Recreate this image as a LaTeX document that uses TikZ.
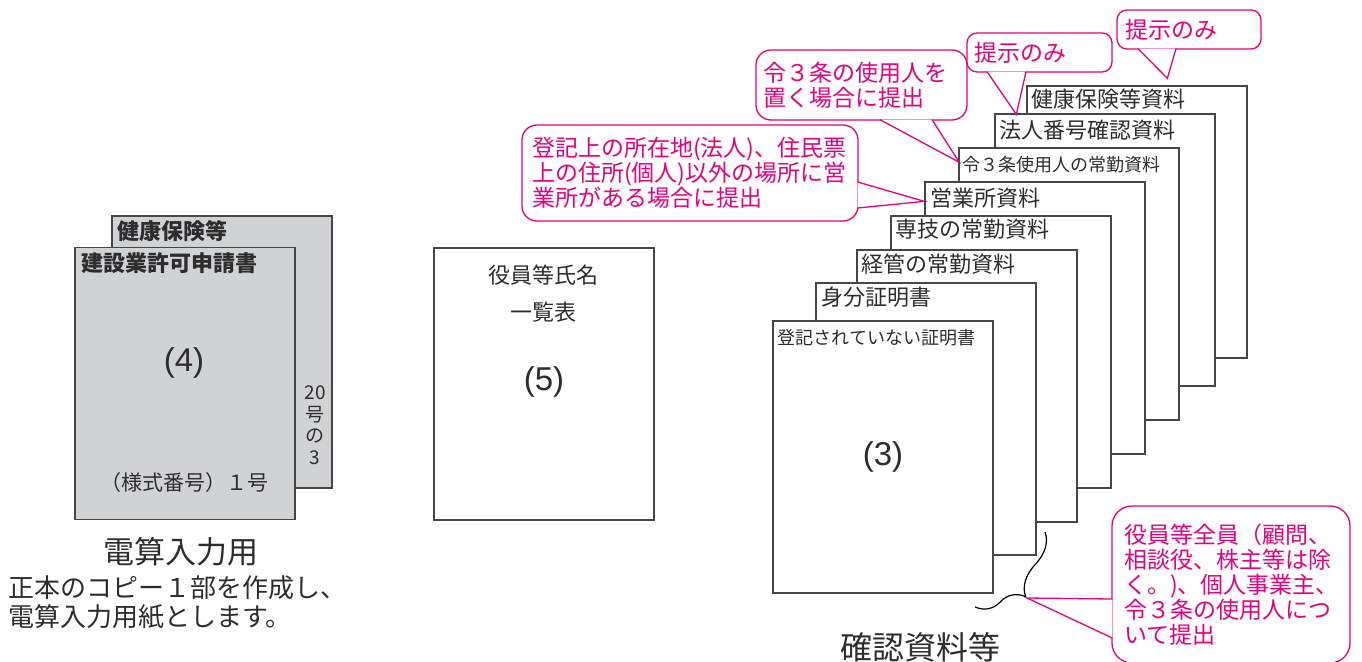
\documentclass[tikz,border=0pt]{standalone}
\usepackage{fontspec}
\setmainfont{Noto Sans CJK JP}
\newfontfamily\numfont{Liberation Sans}
\usetikzlibrary{decorations.pathreplacing}
\definecolor{mag}{RGB}{228,0,127}
\definecolor{cardgray}{RGB}{209,210,212}
\definecolor{txt}{RGB}{45,45,45}
\definecolor{cardline}{RGB}{70,70,70}
\tikzset{
  card/.style={draw=cardline, line width=1.3pt, fill=white, minimum width=220pt, minimum height=272pt, inner sep=0pt},
  lbl/.style={text=txt, inner sep=0pt, anchor=west, font=\fontsize{22}{26}\selectfont},
  slbl/.style={lbl, font=\fontsize{18}{22}\selectfont},
  bignum/.style={text=txt, inner sep=0pt, font=\numfont\fontsize{33}{36}\selectfont},
  callout/.style={draw=mag, line width=1.3pt, fill=white, text=mag, align=left, inner ysep=0pt, font=\fontsize{23}{25}\selectfont},
  tail/.style={draw=mag, line width=1.3pt, fill=white},
}
\begin{document}
\begin{tikzpicture}[x=1pt,y=-1pt]
\useasboundingbox (0,0) rectangle (1362,661);

% 電算入力用
\node[card, fill=cardgray] (kenko) at (222,352) {};
\node[lbl, font=\bfseries\fontsize{22}{26}\selectfont] (kenko-t) at ([shift={(6,16)}]kenko.north west) {健康保険等};
\node[text=txt, align=center, inner sep=0pt, font=\fontsize{19}{21.5}\selectfont] (kenko-no) at (315,425) {20\\号\\の\\3};
\node[card, fill=cardgray] (shinsei) at (185,383.5) {};
\node[lbl, font=\bfseries\fontsize{22}{26}\selectfont] (shinsei-t) at ([shift={(7,16)}]shinsei.north west) {建設業許可申請書};
\node[bignum] (shinsei-n) at (184,363) {(4)};
\node[text=txt, inner sep=0pt, font=\fontsize{21}{24}\selectfont] (shinsei-y) at (184,483) {（様式番号）１号};
\node[text=txt, inner sep=0pt, font=\fontsize{31}{34}\selectfont] (densan) at (181,552) {電算入力用};
\node[text=txt, anchor=west, align=left, inner sep=0pt, font=\fontsize{26}{29}\selectfont] (densan-t) at (8,602.5) {正本のコピー１部を作成し、\\電算入力用紙とします。};

% 役員等氏名一覧表
\node[card] (ichiran) at (544,384) {};
\node[lbl, anchor=center] (ichiran-t1) at (543,275) {役員等氏名};
\node[lbl, anchor=center] (ichiran-t2) at (543,312) {一覧表};
\node[bignum] (ichiran-n) at (544,382) {(5)};

% 確認資料等
\node[card] (kenpo) at (1137,222) {};
\node[lbl] (kenpo-t) at ([shift={(5,14)}]kenpo.north west) {健康保険等資料};
\node[card] (hojin) at (1105,250) {};
\node[lbl] (hojin-t) at ([shift={(5,17)}]hojin.north west) {法人番号確認資料};
\node[card] (rei3) at (1069,284) {};
\node[slbl] (rei3-t) at ([shift={(4,17)}]rei3.north west) {令３条使用人の常勤資料};
\node[card] (eigyo) at (1035,318) {};
\node[lbl] (eigyo-t) at ([shift={(6,17)}]eigyo.north west) {営業所資料};
\node[card] (sengi) at (1001,352) {};
\node[lbl] (sengi-t) at ([shift={(5,14)}]sengi.north west) {専技の常勤資料};
\node[card] (keikan) at (967,386) {};
\node[lbl] (keikan-t) at ([shift={(5,15)}]keikan.north west) {経管の常勤資料};
\node[card] (mibun) at (926,419) {};
\node[lbl] (mibun-t) at ([shift={(6,15)}]mibun.north west) {身分証明書};
\node[card] (touki) at (883,457) {};
\node[slbl] (touki-t) at ([shift={(5,17)}]touki.north west) {登記されていない証明書};
\node[bignum] (touki-n) at (883,457) {(3)};
\node[text=txt, inner sep=0pt, font=\fontsize{32}{36}\selectfont] (kakunin) at (920,647) {確認資料等};

% brace
\coordinate (brA) at (1045,532);
\coordinate (brB) at (975,607);
\coordinate (brtip) at (1027,598);
\draw[line width=1.2pt, decorate, decoration={brace, amplitude=30pt, aspect=0.59}] (brA) -- (brB);

% callouts
\node[callout, rounded corners=15pt, text width=316pt, inner xsep=10pt, minimum height=96pt] (callA) at (690,173) {登記上の所在地(法人)、住民票\\上の住所(個人)以外の場所に営\\業所がある場合に提出};
\draw[tail] ([shift={(-1,9)}]callA.east) -- ([shift={(0,20)}]eigyo.north west) -- ([shift={(-1,35)}]callA.east);

\node[callout, rounded corners=15pt, text width=197pt, inner xsep=7pt, minimum height=70pt] (callB) at (861.5,85) {令３条の使用人を\\置く場合に提出};
\draw[tail] ([shift={(18.5,-1)}]callB.south) -- ([shift={(1,15)}]rei3.north west) -- ([shift={(70.5,-1)}]callB.south);

\node[callout, rounded corners=10pt, text width=131pt, inner xsep=7pt, minimum height=39pt] (callC) at (1039.5,52.5) {提示のみ};
\draw[tail] ([shift={(-52.5,-1)}]callC.south) -- ([shift={(22,1)}]hojin.north west) -- ([shift={(-13.5,-1)}]callC.south);

\node[callout, rounded corners=10pt, text width=128pt, inner xsep=8pt, minimum height=39pt] (callD) at (1189,29.5) {提示のみ};
\draw[tail] ([shift={(-51,-1)}]callD.south) -- ([shift={(141,-7)}]kenpo.north west) -- ([shift={(-13,-1)}]callD.south);

\node[callout, rounded corners=20pt, text width=214pt, inner xsep=12pt, minimum height=157pt] (callE) at (1231,584.5) {役員等全員（顧問、\\相談役、株主等は除\\く。)、個人事業主、\\令３条の使用人につ\\いて提出};
\draw[tail] ([shift={(1,14.5)}]callE.west) -- (brtip) -- ([shift={(1,53.5)}]callE.west);
\end{tikzpicture}
\end{document}
